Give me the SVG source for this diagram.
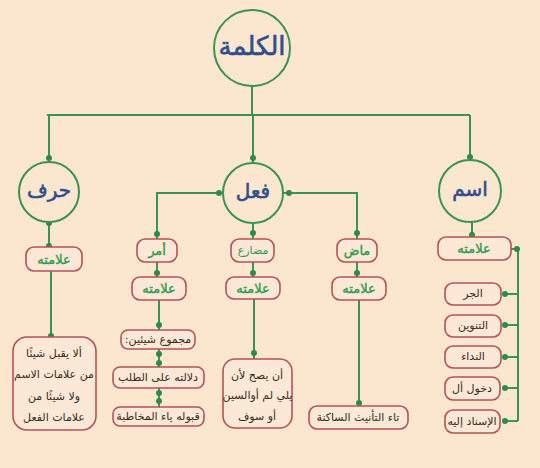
<svg xmlns="http://www.w3.org/2000/svg" width="540" height="468" viewBox="0 0 540 468">
<style>
.bg{fill:#fbe6d0}
.c{fill:#fbe6d0;stroke:#3a9255;stroke-width:2}
.b{fill:#fbe8d6;stroke:#b8505a;stroke-width:1.6}
.l{fill:none;stroke:#3a9255;stroke-width:2}
.d{fill:#2f8a4a}
text{direction:rtl;text-anchor:middle;dominant-baseline:central;font-family:"DejaVu Sans",sans-serif}
.ct{fill:#2f4f8a;stroke:#2f4f8a;stroke-width:0.6}
.g{fill:#2f9a4a;font-size:13px;stroke:#2f9a4a;stroke-width:0.35}
.k{fill:#3a2a22;font-size:11px}
</style>
<rect class="bg" x="0" y="0" width="540" height="468"/>
<g id="connectors">
<path class="l" d="M252 85V115M47 115H470M49 115V162M253 115V163M470 115V160"/>
<path class="l" d="M49 222V247M51 271V337"/>
<path class="l" d="M223 193H157V239M157 262V277M159 300V330M159 349V367M159 388V407"/>
<path class="l" d="M253 223V239M253 262V277M254 299V359"/>
<path class="l" d="M283 193H357V239M357 262V277M359 300V406"/>
<path class="l" d="M472 222V237M511 249H518V421M518 294H505M518 325H505M518 357H505M518 388H505M518 421H505"/>
<g class="d">
<circle cx="49" cy="158" r="3"/><circle cx="253" cy="158" r="3"/><circle cx="470" cy="157" r="3"/>
<circle cx="49" cy="223" r="3"/><circle cx="49" cy="246" r="3"/><circle cx="51" cy="336" r="3"/>
<circle cx="219" cy="193" r="3"/><circle cx="157" cy="234" r="3"/><circle cx="157" cy="273" r="3"/><circle cx="159" cy="325" r="3"/><circle cx="159" cy="354" r="3"/><circle cx="159" cy="363" r="3"/><circle cx="159" cy="393" r="3"/><circle cx="159" cy="401" r="3"/>
<circle cx="253" cy="233" r="3"/><circle cx="253" cy="273" r="3"/><circle cx="254" cy="353" r="3"/>
<circle cx="289" cy="193" r="3"/><circle cx="357" cy="233" r="3"/><circle cx="357" cy="273" r="3"/><circle cx="359" cy="403" r="3"/>
<circle cx="472" cy="235" r="3"/><circle cx="517" cy="249" r="3"/>
<circle cx="505" cy="294" r="3"/><circle cx="505" cy="325" r="3"/><circle cx="505" cy="357" r="3"/><circle cx="505" cy="388" r="3"/><circle cx="505" cy="421" r="3"/>
</g>
</g>
<g id="kalima"><circle class="c" cx="252" cy="48" r="38"/><text class="ct" x="252" y="46" font-size="26">الكلمة</text></g>
<g id="harf"><circle class="c" cx="49" cy="192" r="30"/><text class="ct" x="49" y="190" font-size="20">حرف</text></g>
<g id="fil"><circle class="c" cx="253" cy="193" r="30"/><text class="ct" x="253" y="191" font-size="20">فعل</text></g>
<g id="ism"><circle class="c" cx="470" cy="191" r="31"/><text class="ct" x="470" y="189" font-size="20">اسم</text></g>
<g id="harf-alama"><rect class="b" x="26" y="247" width="56" height="24" rx="8"/><text class="g" x="54" y="259">علامته</text></g>
<g id="harf-desc"><rect class="b" x="13" y="337" width="83" height="93" rx="14"/>
<text class="k" x="54" y="353">ألا يقبل شيئًا</text><text class="k" x="54" y="374" font-size="10">من علامات الاسم</text><text class="k" x="54" y="396">ولا شيئًا من</text><text class="k" x="54" y="417">علامات الفعل</text></g>
<g id="amr"><rect class="b" x="137" y="239" width="40" height="23" rx="8"/><text class="g" x="157" y="250">أمر</text></g>
<g id="amr-alama"><rect class="b" x="132" y="277" width="54" height="23" rx="8"/><text class="g" x="159" y="288">علامته</text></g>
<g id="amr-1"><rect class="b" x="121" y="330" width="74" height="19" rx="7"/><text class="k" x="158" y="339">مجموع شيئين:</text></g>
<g id="amr-2"><rect class="b" x="113" y="367" width="91" height="21" rx="7"/><text class="k" x="158" y="377">دلالته على الطلب</text></g>
<g id="amr-3"><rect class="b" x="113" y="407" width="91" height="19" rx="7"/><text class="k" x="158" y="416" font-size="10.5">قبوله ياء المخاطبة</text></g>
<g id="mudari"><rect class="b" x="231" y="239" width="43" height="23" rx="8"/><text class="g" x="253" y="250" style="font-size:11px;stroke-width:0">مضارع</text></g>
<g id="mudari-alama"><rect class="b" x="226" y="277" width="54" height="22" rx="8"/><text class="g" x="253" y="288">علامته</text></g>
<g id="mudari-desc"><rect class="b" x="223" y="359" width="69" height="69" rx="12"/>
<text class="k" x="257" y="375" font-size="12">أن يصح لأن</text><text class="k" x="257.5" y="395" font-size="10">يلي لم أوالسين</text><text class="k" x="257" y="416" font-size="12">أو سوف</text></g>
<g id="madi"><rect class="b" x="337" y="239" width="40" height="23" rx="8"/><text class="g" x="357" y="250">ماض</text></g>
<g id="madi-alama"><rect class="b" x="332" y="277" width="54" height="23" rx="8"/><text class="g" x="359" y="288">علامته</text></g>
<g id="madi-desc"><rect class="b" x="309" y="406" width="99" height="23" rx="8"/><text class="k" x="358" y="417">تاء التأنيث الساكنة</text></g>
<g id="ism-alama"><rect class="b" x="438" y="237" width="73" height="23" rx="8"/><text class="g" x="474" y="248">علامته</text></g>
<g id="jarr"><rect class="b" x="445" y="283" width="56" height="22" rx="8"/><text class="k" x="473" y="293">الجر</text></g>
<g id="tanwin"><rect class="b" x="445" y="315" width="56" height="22" rx="8"/><text class="k" x="473" y="325">التنوين</text></g>
<g id="nida"><rect class="b" x="445" y="346" width="56" height="22" rx="8"/><text class="k" x="473" y="356">النداء</text></g>
<g id="al"><rect class="b" x="445" y="377" width="55" height="23" rx="8"/><text class="k" x="472" y="388">دخول أل</text></g>
<g id="isnad"><rect class="b" x="445" y="410" width="55" height="23" rx="8"/><text class="k" x="472" y="421">الإسناد إليه</text></g>
</svg>
